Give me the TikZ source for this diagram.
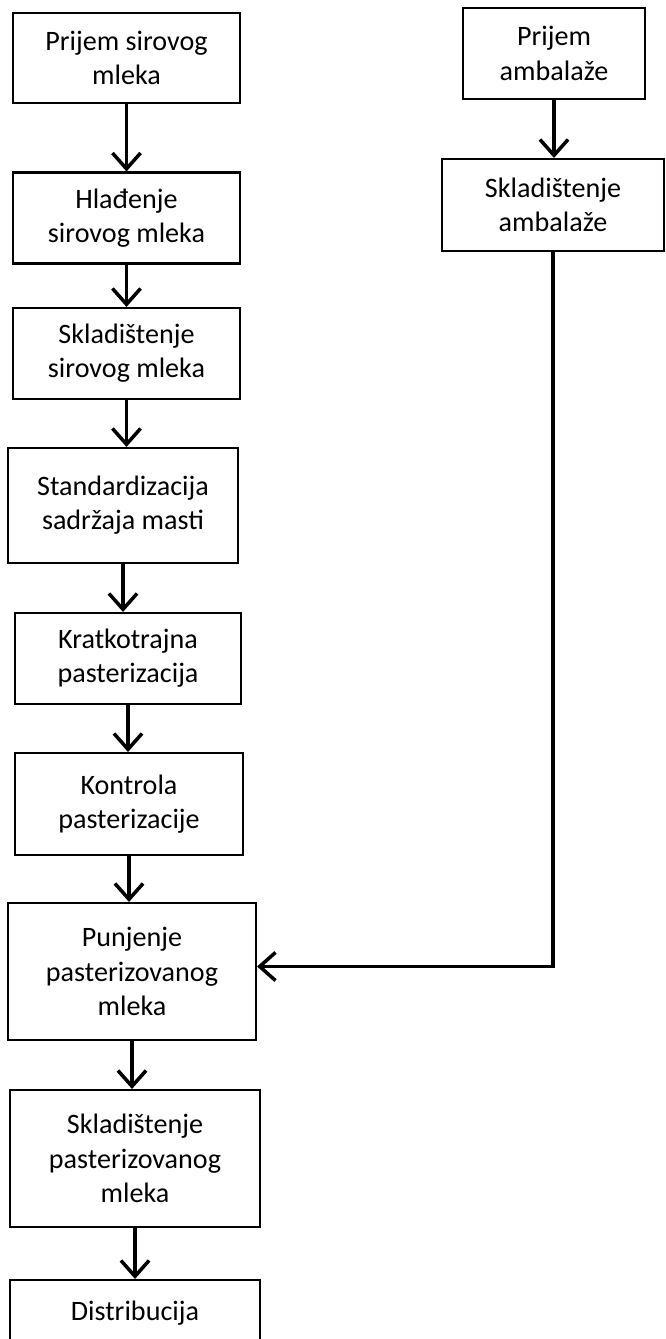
\documentclass[tikz,border=0pt]{standalone}
\usepackage{fontspec}
\setmainfont{Carlito}
\usetikzlibrary{arrows.meta,positioning}

\begin{document}
\begin{tikzpicture}[
    x=0.02cm, y=-0.02cm,
    box/.style={draw, line width=1.2pt, align=center, inner sep=2pt,
                font=\fontsize{16}{19.5}\selectfont},
    link/.style={-{Straight Barb[length=9pt, width=16pt]}, line width=2pt},
]
\useasboundingbox (0,0) rectangle (666,1339);

  % Mleko
  \node[box, minimum width=4.54cm, minimum height=1.8cm]  (prijemMleka)   at (126.5,58)    {Prijem sirovog\\mleka};
  \node[box, minimum width=4.54cm, minimum height=1.82cm] (hladjenje)     at (126.5,218)   {Hlađenje\\sirovog mleka};
  \node[box, minimum width=4.54cm, minimum height=1.82cm] (skladSirovog)  at (126.5,353.5) {Skladištenje\\sirovog mleka};
  \node[box, minimum width=4.6cm,  minimum height=2.3cm]  (standard)      at (123,505.5)   {Standardizacija\\sadržaja masti};
  \node[box, minimum width=4.52cm, minimum height=1.82cm] (pasterizacija) at (128,658.5)   {Kratkotrajna\\pasterizacija};
  \node[box, minimum width=4.56cm, minimum height=2.04cm] (kontrola)      at (129,804)     {Kontrola\\pasterizacije};
  \node[box, minimum width=4.96cm, minimum height=2.74cm] (punjenje)      at (132,971.5)   {Punjenje\\pasterizovanog\\mleka};
  \node[box, minimum width=5cm,    minimum height=2.74cm] (skladPast)     at (135,1158.5)  {Skladištenje\\pasterizovanog\\mleka};
  \node[box, minimum width=5cm,    minimum height=1.32cm] (distribucija)  at (135,1313)    {Distribucija};

  % Ambalaza
  \node[box, minimum width=3.64cm, minimum height=1.82cm] (prijemAmb)     at (554,53.5)    {Prijem\\ambalaže};
  \node[box, minimum width=4.44cm, minimum height=1.84cm] (skladAmb)      at (553,205)     {Skladištenje\\ambalaže};

  % Veze
  \foreach \a/\b in {prijemMleka/hladjenje, hladjenje/skladSirovog, skladSirovog/standard,
                     standard/pasterizacija, pasterizacija/kontrola, kontrola/punjenje,
                     punjenje/skladPast, skladPast/distribucija, prijemAmb/skladAmb}
    \draw[link] (\a.south) -- (\a.south |- \b.north);
  \draw[link] (skladAmb.south) |- ([yshift=0.1cm]punjenje.east);
\end{tikzpicture}
\end{document}
